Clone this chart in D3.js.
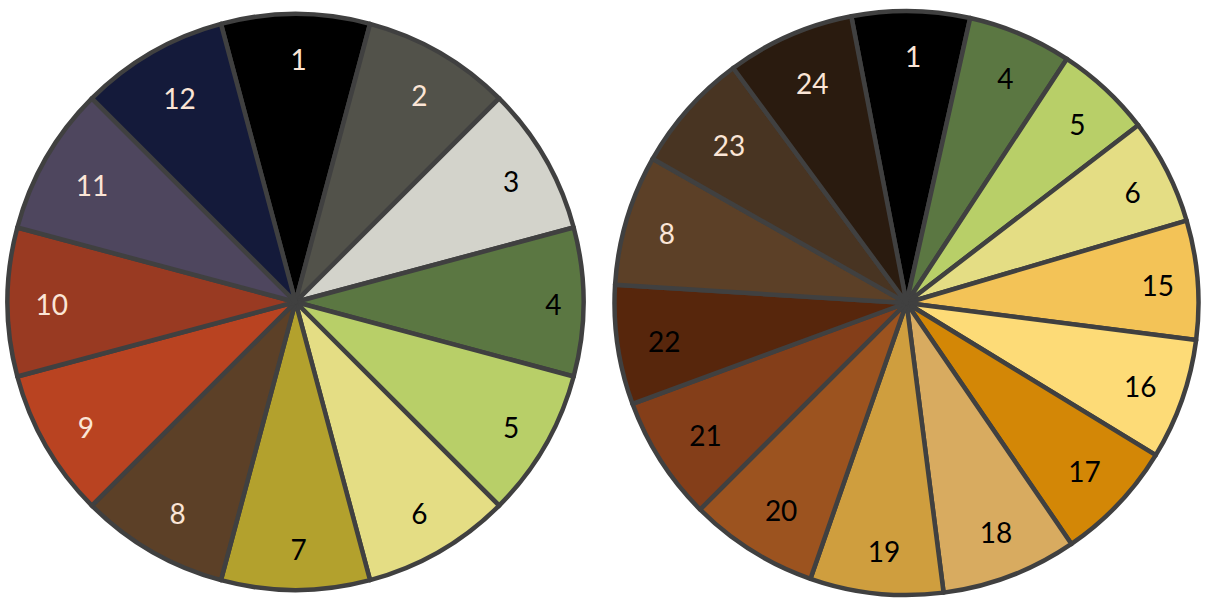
<!DOCTYPE html>
<html>
<head>
<meta charset="utf-8">
<script src="https://cdn.jsdelivr.net/npm/d3@7"></script>
<style>
  html, body { margin: 0; padding: 0; background: #ffffff; }
  svg { display: block; }
</style>
</head>
<body>
<svg id="chart" width="1206" height="598"></svg>
<script>
// Left pie: twelve equal slices
const leftCategories = ["1", "2", "3", "4", "5", "6", "7", "8", "9", "10", "11", "12"];
const leftValues = [1, 1, 1, 1, 1, 1, 1, 1, 1, 1, 1, 1];

// Right pie: fifteen slices of slightly different size
const rightCategories = ["1", "4", "5", "6", "15", "16", "17", "18", "19", "20", "21", "22", "8", "23", "24"];
const rightValues = [23.5, 20.7, 19.2, 21.1, 23.7, 24.1, 24.2, 27.1, 26.5, 25.8, 24.8, 23.8, 26.0, 24.0, 25.5];

// Fill colour for each numbered category
const palette = {
  "1": "#000000", "2": "#52524a", "3": "#d3d3cb", "4": "#5b7742",
  "5": "#b8cf68", "6": "#e4dd84", "7": "#b3a12d", "8": "#5c4027",
  "9": "#b94321", "10": "#993a22", "11": "#4e465e", "12": "#141a3a",
  "15": "#f3c357", "16": "#fddb77", "17": "#d38706", "18": "#d8ab60",
  "19": "#cf9e3e", "20": "#9c531f", "21": "#843e19", "22": "#57260c",
  "23": "#483422", "24": "#2a1b0f"
};
// Categories whose number is printed in a light tone
const lightText = new Set(["1", "2", "8", "9", "10", "11", "12", "23", "24"]);

const svg = d3.select("#chart");
const deg = Math.PI / 180;

const color = d3.scaleOrdinal()
  .domain(Object.keys(palette))
  .range(Object.values(palette));

function drawPie(cfg) {
  const pie = d3.pie()
    .sort(null)
    .value(d => d.value)
    .startAngle(cfg.start * deg)
    .endAngle((cfg.start + 360) * deg);

  const data = cfg.categories.map((c, i) => ({ cat: c, value: cfg.values[i] }));
  const arcs = pie(data);

  const arc = d3.arc().innerRadius(0).outerRadius(cfg.r);

  const g = svg.append("g").attr("transform", `translate(${cfg.cx},${cfg.cy})`);

  g.selectAll("path.slice")
    .data(arcs)
    .join("path")
    .attr("class", "slice")
    .attr("d", arc)
    .attr("fill", d => color(d.data.cat))
    .attr("stroke", "#404040")
    .attr("stroke-width", 4.5)
    .attr("stroke-linejoin", "round");

  const labels = g.selectAll("text.lbl")
    .data(arcs)
    .join("text")
    .attr("class", "lbl")
    .attr("text-anchor", "middle")
    .attr("dominant-baseline", "central")
    .attr("font-family", "Lato, 'Open Sans', sans-serif")
    .attr("font-size", 28)
    .attr("fill", d => lightText.has(d.data.cat) ? "#fbe5d6" : "#000000")
    .text(d => d.data.cat);

  // keep each label box just inside the outer edge of its slice
  const edge = cfg.r - 21;
  labels.each(function (d) {
    const w = this.getComputedTextLength();
    const mid = (d.startAngle + d.endAngle) / 2;
    const hw = w / 2 + 4, hh = 22;
    const dist = edge - (hw * Math.abs(Math.sin(mid)) + hh * Math.abs(Math.cos(mid)));
    d3.select(this)
      .attr("x", 3 + dist * Math.sin(mid))
      .attr("y", 2 - dist * Math.cos(mid));
  });
}

drawPie({ categories: leftCategories, values: leftValues, start: -15, cx: 295.5, cy: 302, r: 288 });
drawPie({ categories: rightCategories, values: rightValues, start: -10.9, cx: 906.5, cy: 303, r: 292 });
</script>
</body>
</html>
